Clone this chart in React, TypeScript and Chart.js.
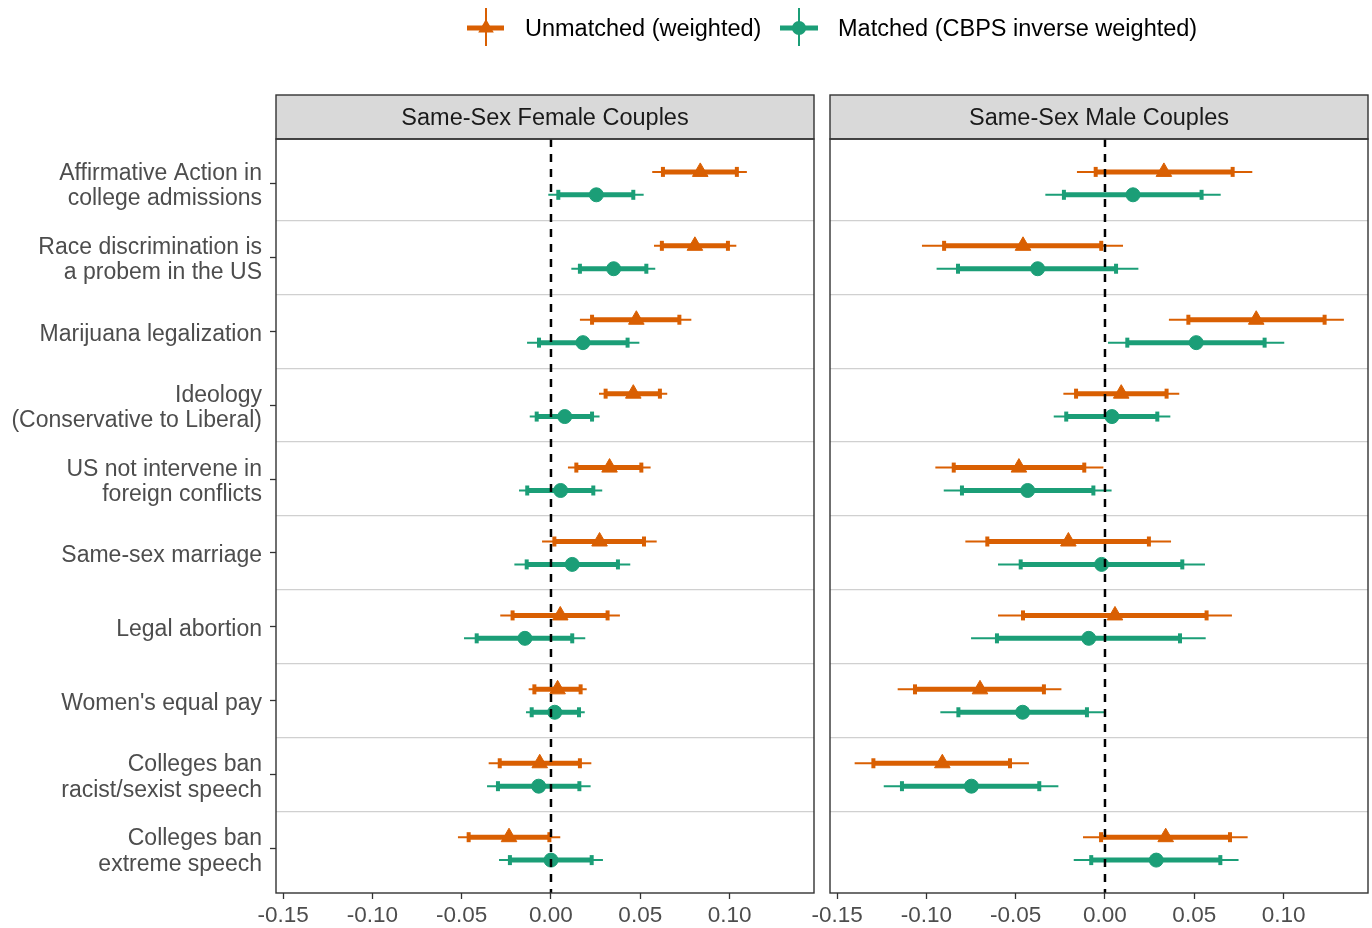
import React, { useEffect, useRef } from "react";
import { Chart, registerables } from "chart.js";

Chart.register(...registerables);

// ---------------- DATA ----------------
const categories: string[][] = [
  ["Affirmative Action in", "college admissions"],
  ["Race discrimination is", "a probem in the US"],
  ["Marijuana legalization"],
  ["Ideology", "(Conservative to Liberal)"],
  ["US not intervene in", "foreign conflicts"],
  ["Same-sex marriage"],
  ["Legal abortion"],
  ["Women's equal pay"],
  ["Colleges ban", "racist/sexist speech"],
  ["Colleges ban", "extreme speech"],
];

const panelTitles = ["Same-Sex Female Couples", "Same-Sex Male Couples"];
const seriesNames = ["Unmatched (weighted)", "Matched (CBPS inverse weighted)"];

const xTicks = [-0.15, -0.1, -0.05, 0, 0.05, 0.1];

// Same-Sex Female Couples
const femaleUnmatchedEst = [0.0836, 0.0806, 0.0478, 0.0461, 0.0328, 0.0272, 0.0052, 0.0037, -0.0063, -0.0235];
const femaleUnmatchedLo90 = [0.0627, 0.0621, 0.023, 0.0306, 0.0142, 0.0019, -0.0215, -0.0093, -0.0287, -0.0461];
const femaleUnmatchedHi90 = [0.1041, 0.0991, 0.0719, 0.061, 0.0506, 0.0521, 0.0317, 0.0166, 0.0162, -0.0009];
const femaleUnmatchedLo95 = [0.0567, 0.0577, 0.0162, 0.0269, 0.0095, -0.005, -0.0284, -0.0125, -0.0349, -0.0521];
const femaleUnmatchedHi95 = [0.1097, 0.1038, 0.0786, 0.0651, 0.0558, 0.0592, 0.0386, 0.02, 0.0226, 0.0052];

const femaleMatchedEst = [0.0254, 0.0351, 0.0179, 0.0077, 0.0054, 0.0119, -0.0146, 0.0021, -0.0069, 0.0];
const femaleMatchedLo90 = [0.0041, 0.0162, -0.0067, -0.008, -0.0133, -0.0136, -0.0416, -0.0108, -0.0297, -0.023];
const femaleMatchedHi90 = [0.0461, 0.0534, 0.0429, 0.023, 0.0237, 0.0375, 0.0119, 0.0157, 0.0159, 0.0228];
const femaleMatchedLo95 = [-0.0015, 0.0114, -0.0134, -0.0119, -0.0179, -0.0205, -0.0487, -0.014, -0.0358, -0.0291];
const femaleMatchedHi95 = [0.0519, 0.0584, 0.0495, 0.0272, 0.0287, 0.0444, 0.0192, 0.0189, 0.0222, 0.0291];

// Same-Sex Male Couples
const maleUnmatchedEst = [0.033, -0.0459, 0.0847, 0.0091, -0.0482, -0.0205, 0.0056, -0.07, -0.0911, 0.034];
const maleUnmatchedLo90 = [-0.0052, -0.0901, 0.0467, -0.0162, -0.0847, -0.0659, -0.0459, -0.1064, -0.1297, -0.0022];
const maleUnmatchedHi90 = [0.0715, -0.0021, 0.123, 0.0345, -0.0116, 0.0246, 0.0569, -0.0342, -0.0532, 0.07];
const maleUnmatchedLo95 = [-0.0157, -0.1025, 0.0358, -0.0233, -0.095, -0.0782, -0.0599, -0.1161, -0.1402, -0.0123];
const maleUnmatchedHi95 = [0.0825, 0.0101, 0.1338, 0.0416, -0.0009, 0.037, 0.0711, -0.0244, -0.0426, 0.0799];

const maleMatchedEst = [0.0157, -0.0377, 0.0511, 0.0039, -0.0433, -0.0019, -0.0091, -0.0461, -0.0748, 0.0287];
const maleMatchedLo90 = [-0.023, -0.0823, 0.0125, -0.0217, -0.0801, -0.0472, -0.0605, -0.0821, -0.1137, -0.0077];
const maleMatchedHi90 = [0.0541, 0.0062, 0.0894, 0.0293, -0.0065, 0.0433, 0.042, -0.0101, -0.0368, 0.0646];
const maleMatchedLo95 = [-0.0334, -0.0943, 0.0017, -0.0287, -0.0903, -0.0599, -0.075, -0.0922, -0.1239, -0.0175];
const maleMatchedHi95 = [0.0648, 0.0187, 0.1004, 0.0366, 0.0037, 0.056, 0.0564, 0.0, -0.0261, 0.0748];

// ---------------- STYLE ----------------
const FONT = '"Liberation Sans", Arial, Helvetica, sans-serif';
const ORANGE = "#D95F02";
const GREEN = "#1B9E77";
const X_MIN = -0.154;
const X_MAX = 0.1473;
const Y_MIN = 0.4;
const Y_MAX = 10.6;
const DODGE = 0.155;
const STRIP_TOP = 95;

type Series = { est: number[]; lo90: number[]; hi90: number[]; lo95: number[]; hi95: number[] };

const panelDecor = {
  id: "panelDecor",
  afterDraw(chart: any, _args: any, opts: any) {
    const { ctx, chartArea: a } = chart;
    ctx.save();
    ctx.fillStyle = "#D9D9D9";
    ctx.fillRect(a.left, STRIP_TOP, a.right - a.left, a.top - STRIP_TOP);
    ctx.strokeStyle = "#333333";
    ctx.lineWidth = 1.4;
    ctx.strokeRect(a.left, STRIP_TOP, a.right - a.left, a.top - STRIP_TOP);
    ctx.strokeRect(a.left, a.top, a.right - a.left, a.bottom - a.top);
    ctx.fillStyle = "#1A1A1A";
    ctx.font = `23.5px ${FONT}`;
    ctx.textAlign = "center";
    ctx.textBaseline = "middle";
    ctx.fillText(opts.title, (a.left + a.right) / 2, (STRIP_TOP + a.top) / 2 + 2);
    ctx.restore();
  },
};

function seriesDatasets(s: Series, color: string, style: string, radius: number, offset: number) {
  const ds: any[] = [];
  for (let i = 0; i < categories.length; i++) {
    const y = i + 1 + offset;
    ds.push({
      data: [
        { x: s.lo95[i], y },
        { x: s.hi95[i], y },
      ],
      showLine: true,
      borderColor: color,
      borderWidth: 2,
      borderCapStyle: "butt",
      pointRadius: 0,
      pointHoverRadius: 0,
      yAxisID: "y",
      xAxisID: "x",
      order: 3,
    });
    ds.push({
      data: [
        { x: s.lo90[i], y },
        { x: s.hi90[i], y },
      ],
      showLine: true,
      borderColor: color,
      borderWidth: 5,
      borderCapStyle: "butt",
      pointStyle: "line",
      pointRotation: 90,
      pointRadius: 5,
      pointHoverRadius: 5,
      pointBorderWidth: 4,
      pointBorderColor: color,
      pointBackgroundColor: color,
      yAxisID: "y",
      xAxisID: "x",
      order: 2,
    });
  }
  ds.push({
    data: s.est.map((v, i) => ({ x: v, y: i + 1 + offset })),
    showLine: false,
    pointStyle: style,
    pointRadius: radius,
    pointHoverRadius: radius,
    pointBackgroundColor: color,
    pointBorderColor: color,
    pointBorderWidth: 1,
    yAxisID: "y",
    xAxisID: "x",
    order: 1,
  });
  return ds;
}

function makeConfig(title: string, unmatched: Series, matched: Series, showLabels: boolean, yWidth: number, padRight: number) {
  const datasets: any[] = [
    {
      data: [
        { x: 0, y: Y_MIN },
        { x: 0, y: Y_MAX },
      ],
      showLine: true,
      borderColor: "#000000",
      borderWidth: 2.5,
      borderDash: [8, 7],
      borderCapStyle: "butt",
      pointRadius: 0,
      pointHoverRadius: 0,
      yAxisID: "y",
      xAxisID: "x",
      order: 0,
    },
    ...seriesDatasets(unmatched, ORANGE, "triangle", 9, -DODGE),
    ...seriesDatasets(matched, GREEN, "circle", 7, DODGE),
  ];
  return {
    type: "scatter",
    data: { datasets },
    options: {
      animation: false,
      responsive: false,
      events: [],
      layout: { autoPadding: false, padding: { top: 139, right: padRight, bottom: 0, left: 0 } },
      plugins: {
        legend: { display: false },
        tooltip: { enabled: false },
        panelDecor: { title },
      },
      scales: {
        y: {
          type: "linear",
          position: "left",
          min: Y_MIN,
          max: Y_MAX,
          reverse: true,
          afterBuildTicks: (s: any) => {
            s.ticks = categories.map((_, i) => ({ value: i + 1 }));
          },
          ticks: {
            display: showLabels,
            autoSkip: false,
            color: "#4D4D4D",
            padding: 8,
            labelOffset: 3,
            font: { family: FONT, size: 23, lineHeight: 1.1 },
            callback: (v: number) => categories[Math.round(v) - 1],
          },
          grid: {
            display: showLabels,
            drawOnChartArea: false,
            drawTicks: true,
            tickLength: 6,
            tickColor: "#333333",
            tickWidth: 1.3,
          },
          border: { display: false },
          afterFit: (s: any) => {
            s.width = yWidth;
            s.paddingTop = 0;
            s.paddingBottom = 0;
          },
        },
        ySep: {
          type: "linear",
          position: "left",
          min: Y_MIN,
          max: Y_MAX,
          reverse: true,
          afterBuildTicks: (s: any) => {
            s.ticks = categories.slice(1).map((_, i) => ({ value: i + 1.5 }));
          },
          ticks: { display: false },
          grid: { color: "#D0D0D0", lineWidth: 1.2, drawTicks: false },
          border: { display: false },
          afterFit: (s: any) => {
            s.width = 0;
            s.paddingTop = 0;
            s.paddingBottom = 0;
          },
        },
        x: {
          type: "linear",
          position: "bottom",
          min: X_MIN,
          max: X_MAX,
          afterBuildTicks: (s: any) => {
            s.ticks = xTicks.map((v) => ({ value: v }));
          },
          ticks: {
            autoSkip: false,
            maxRotation: 0,
            color: "#4D4D4D",
            padding: 3,
            font: { family: FONT, size: 22.5 },
            callback: (v: number) => v.toFixed(2),
          },
          grid: {
            drawOnChartArea: false,
            drawTicks: true,
            tickLength: 6,
            tickColor: "#333333",
            tickWidth: 1.3,
          },
          border: { display: false },
          afterFit: (s: any) => {
            s.height = 35;
            s.paddingLeft = 0;
            s.paddingRight = 0;
          },
        },
      },
    },
    plugins: [panelDecor],
  };
}

export default function App() {
  const leftRef = useRef<HTMLCanvasElement>(null);
  const rightRef = useRef<HTMLCanvasElement>(null);

  useEffect(() => {
    const female = makeConfig(
      panelTitles[0],
      { est: femaleUnmatchedEst, lo90: femaleUnmatchedLo90, hi90: femaleUnmatchedHi90, lo95: femaleUnmatchedLo95, hi95: femaleUnmatchedHi95 },
      { est: femaleMatchedEst, lo90: femaleMatchedLo90, hi90: femaleMatchedHi90, lo95: femaleMatchedLo95, hi95: femaleMatchedHi95 },
      true,
      276,
      8
    );
    const male = makeConfig(
      panelTitles[1],
      { est: maleUnmatchedEst, lo90: maleUnmatchedLo90, hi90: maleUnmatchedHi90, lo95: maleUnmatchedLo95, hi95: maleUnmatchedHi95 },
      { est: maleMatchedEst, lo90: maleMatchedLo90, hi90: maleMatchedHi90, lo95: maleMatchedLo95, hi95: maleMatchedHi95 },
      false,
      40,
      4
    );
    const c1 = new Chart(leftRef.current as HTMLCanvasElement, female as any);
    const c2 = new Chart(rightRef.current as HTMLCanvasElement, male as any);
    return () => {
      c1.destroy();
      c2.destroy();
    };
  }, []);

  const legendText: React.CSSProperties = {
    position: "absolute",
    top: 29,
    transform: "translateY(-50%)",
    fontFamily: FONT,
    fontSize: 23.5,
    color: "#000000",
    whiteSpace: "nowrap",
    lineHeight: 1,
  };

  return (
    <div style={{ position: "absolute", left: 0, top: 0, width: 1372, height: 928, background: "#FFFFFF", overflow: "hidden" }}>
      <canvas ref={leftRef} width={822} height={928} style={{ position: "absolute", left: 0, top: 0 }} />
      <canvas ref={rightRef} width={582} height={928} style={{ position: "absolute", left: 790, top: 0 }} />
      <svg width={1372} height={56} style={{ position: "absolute", left: 0, top: 0 }}>
        <line x1={467} y1={28} x2={504} y2={28} stroke={ORANGE} strokeWidth={5} />
        <line x1={486} y1={8} x2={486} y2={46} stroke={ORANGE} strokeWidth={2} />
        <polygon points="486,19 493.8,32.5 478.2,32.5" fill={ORANGE} />
        <line x1={780} y1={28} x2={818} y2={28} stroke={GREEN} strokeWidth={5} />
        <line x1={799} y1={8} x2={799} y2={46} stroke={GREEN} strokeWidth={2} />
        <circle cx={799} cy={28} r={7} fill={GREEN} />
      </svg>
      <span style={{ ...legendText, left: 525 }}>{seriesNames[0]}</span>
      <span style={{ ...legendText, left: 838 }}>{seriesNames[1]}</span>
    </div>
  );
}
